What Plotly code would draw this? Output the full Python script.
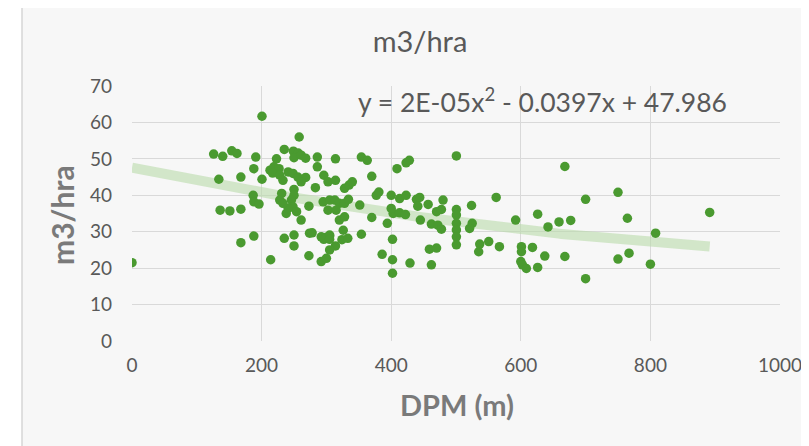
import numpy as np
import plotly.graph_objects as go

# DPM (m) values and corresponding m3/hra values
dpm = [0, 126, 140, 154, 162, 134, 136, 151, 168, 168, 168, 188, 191, 188, 187, 188, 196,
       200.6, 200.6, 213, 219, 227, 217, 228, 233, 223, 235, 249, 256.5, 250, 261, 268, 258,
       241, 248.5, 256, 268, 261, 286, 286, 283, 296, 302.5,
       250, 250, 246, 248.5, 254, 261, 238, 241, 231, 228, 233, 273,
       295, 305, 313, 320, 302.5, 315, 328, 320, 328,
       235, 250, 250, 274, 278, 292, 300, 305, 296, 314, 214, 273, 292, 300,
       314, 314, 354, 363, 428, 423, 409, 370, 328, 335, 340, 377, 381, 400, 413, 423,
       439, 444, 441, 457, 480, 470, 477.5, 500.6, 403, 413, 422, 400, 334, 351.5,
       370, 394, 445, 462, 472, 477.5, 500.6, 500.6, 500.6, 500.6, 500.6, 500.6,
       324, 326, 333, 354, 305, 305, 305, 402, 386, 402, 402, 429, 459, 470, 462,
       524, 562, 525, 521, 550.5, 536.6, 535, 567, 592, 626, 642, 659, 677,
       601, 601, 618, 637, 668, 600, 602.5, 608.6, 626, 668, 700, 700,
       750, 764.5, 891.5, 808, 750, 767, 800]
m3_hra = [21.5, 51.3, 50.7, 52.2, 51.5, 44.4, 35.9, 35.7, 36.2, 45, 27, 47.3, 50.5, 28.8, 40, 38.2, 37.6,
          61.7, 44.4, 46.9, 47.8, 47.3, 46.1, 45.5, 44.1, 50, 52.6, 52.1, 51.6, 50.3, 51, 50.2, 56,
          46.4, 46, 45, 44.9, 43.7, 50.5, 47.8, 42.1, 45.5, 43.7,
          41.6, 40, 38.7, 36.8, 35.5, 33.2, 35, 36.4, 40.5, 38.7, 37.8, 37,
          38.2, 38.7, 38.7, 37.8, 35.9, 35.9, 37.8, 33.2, 34.1,
          28.2, 29.1, 26.1, 29.6, 29.7, 28.6, 28.5, 28.8, 27.9, 26.1, 22.3, 23.4, 21.8, 22.7,
          50, 44.1, 50.5, 49.6, 49.6, 48.9, 47.3, 45.2, 41.9, 42.8, 43.7, 40, 40.9, 40, 39.1, 40,
          38.9, 39.4, 37, 37.5, 38.7, 35.5, 36.1, 36.1, 35, 35.2, 34.7, 36.4, 38.9, 37.3,
          33.9, 32.3, 33.2, 32.1, 31.8, 30.7, 50.8, 34.6, 32.3, 30.5, 28.6, 26.4,
          27.8, 30.4, 28.2, 29.3, 29.1, 27.9, 25, 27.9, 23.8, 22.3, 18.6, 21.4, 25.2, 25.5, 20.9,
          37.2, 39.4, 32.3, 30.9, 27.3, 26.6, 24.5, 25.9, 33.2, 34.8, 31.3, 32.7, 33.1,
          25.9, 24.5, 25.7, 23.3, 23.2, 21.8, 20.9, 19.9, 20.2, 47.9, 38.9, 17.1,
          40.8, 33.7, 35.3, 29.6, 22.5, 24.1, 21.1]

x_ticks = [0, 200, 400, 600, 800, 1000]
y_ticks = [0, 10, 20, 30, 40, 50, 60, 70]
chart_title = "m3/hra"
x_title = "DPM (m)"
y_title = "m3/hra"
equation_text = "y = 2E-05x<sup>2</sup> - 0.0397x + 47.986"

FONT = "Lato"
GRAY = "#595959"
TITLE_GRAY = "#7a7a7a"

# polynomial (order 2) trendline fitted to the data, as the spreadsheet does
coef = np.polyfit(dpm, m3_hra, 2)
tx = np.linspace(min(dpm), max(dpm), 200)
ty = np.polyval(coef, tx)

fig = go.Figure()
fig.add_trace(go.Scatter(
    x=tx, y=ty, mode="lines",
    line=dict(color="rgba(185,218,170,0.6)", width=10),
    hoverinfo="skip", showlegend=False))
fig.add_trace(go.Scatter(
    x=dpm, y=m3_hra, mode="markers",
    marker=dict(color="#4a9a30", size=9.5, line=dict(width=0)),
    showlegend=False))

# plot area (in figure px): x 124..772, y 77.5..333.5
PW, PH = 648.0, 256.0

fig.add_annotation(
    x=0.6335, y=0.943, xref="paper", yref="paper", xanchor="center", yanchor="middle",
    text=equation_text, showarrow=False,
    font=dict(family=FONT, size=26.5, color=GRAY))

fig.add_annotation(
    x=(449 - 124) / PW, y=(333.5 - 397) / PH, xref="paper", yref="paper",
    xanchor="center", yanchor="middle", showarrow=False,
    text="<b>" + x_title + "</b>", font=dict(family=FONT, size=29, color=TITLE_GRAY))

fig.add_annotation(
    x=(54 - 124) / PW, y=(333.5 - 207) / PH, xref="paper", yref="paper",
    xanchor="center", yanchor="middle", showarrow=False, textangle=-90,
    text="<b>" + y_title + "</b>", font=dict(family=FONT, size=30, color=TITLE_GRAY))

# white strip outside the chart frame, then the frame's left border line
fig.add_shape(type="rect", xref="paper", yref="paper",
              x0=-1, x1=(14 - 124) / PW, y0=-1, y1=1.5,
              fillcolor="white", line=dict(width=0), layer="below")
fig.add_shape(type="line", xref="paper", yref="paper",
              x0=(14 - 124) / PW, x1=(14 - 124) / PW, y0=-1, y1=1.5,
              line=dict(color="#d6d6d6", width=1.5), layer="below")

fig.update_layout(
    width=809, height=446,
    margin=dict(l=124, r=37, t=77.5, b=112.5, autoexpand=False),
    paper_bgcolor="#f7f7f7",
    plot_bgcolor="rgba(0,0,0,0)",
    title=dict(text=chart_title, xref="container", yref="container",
               x=412 / 809, xanchor="center", y=1 - 34 / 446, yanchor="middle",
               font=dict(family=FONT, size=29, color=GRAY)),
    font=dict(family=FONT, color=GRAY),
    xaxis=dict(range=[0, 1000], tickvals=x_ticks, ticktext=[str(v) for v in x_ticks],
               showgrid=True, gridcolor="#d9d9d9", gridwidth=1.2,
               zeroline=False, showline=False,
               tickfont=dict(family=FONT, size=19, color=GRAY), ticks="",
               ticklabelstandoff=11),
    yaxis=dict(range=[0, 70], tickvals=y_ticks, ticktext=[str(v) for v in y_ticks],
               showgrid=True, gridcolor="#d9d9d9", gridwidth=1.2,
               zeroline=False, showline=False,
               tickfont=dict(family=FONT, size=19, color=GRAY), ticks="",
               ticklabelstandoff=19),
)

fig.write_html("out.html")
